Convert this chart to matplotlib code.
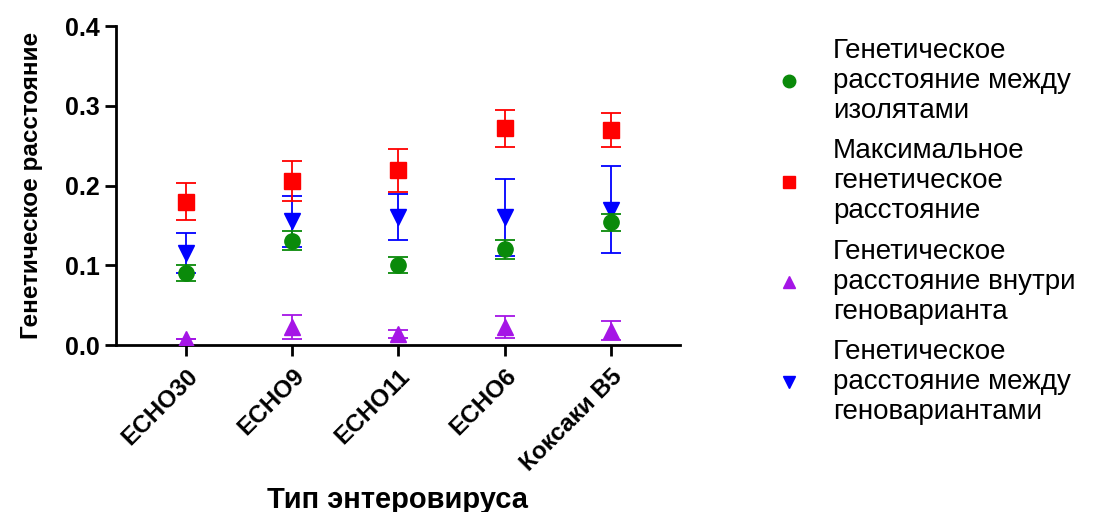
#!/usr/bin/env python3
"""Genetic distance by enterovirus type (mean +/- error)."""

import matplotlib
matplotlib.use("Agg")
import matplotlib.pyplot as plt
from matplotlib.lines import Line2D
import numpy as np

plt.rcParams["font.family"] = ["Liberation Sans", "DejaVu Sans"]

categories = ["ECHO30", "ECHO9", "ECHO11", "ECHO6", "Коксаки B5"]

isolates_mean = [0.090, 0.131, 0.101, 0.120, 0.154]
isolates_err = [0.010, 0.012, 0.010, 0.012, 0.011]

max_mean = [0.180, 0.206, 0.219, 0.272, 0.270]
max_err = [0.023, 0.025, 0.027, 0.023, 0.021]

within_mean = [0.008, 0.023, 0.014, 0.023, 0.018]
within_err = [0.0, 0.015, 0.005, 0.014, 0.012]

between_mean = [0.115, 0.155, 0.161, 0.160, 0.170]
between_err = [0.025, 0.032, 0.029, 0.048, 0.054]

labels = [
    "Генетическое\nрасстояние между\nизолятами",
    "Максимальное\nгенетическое\nрасстояние",
    "Генетическое\nрасстояние внутри\nгеноварианта",
    "Генетическое\nрасстояние между\nгеновариантами",
]

GREEN = "#0a8a0a"
RED = "#ff0000"
PURPLE = "#a515e6"
BLUE = "#0000ff"

fig = plt.figure(figsize=(11.09, 5.12), dpi=100)
ax = fig.add_axes([0.1046, 0.326, 0.5085, 0.623])

x = np.arange(len(categories))
ekw = dict(linestyle="none", elinewidth=1.3, capsize=7, capthick=1.3)

ax.errorbar(x, between_mean, yerr=between_err, fmt="v", color=BLUE,
            markersize=11, zorder=2, **ekw)
ax.errorbar(x, max_mean, yerr=max_err, fmt="s", color=RED,
            markersize=11, zorder=3, **ekw)
ax.errorbar(x, within_mean, yerr=within_err, fmt="^", color=PURPLE,
            markersize=11, zorder=4, **ekw)
ax.errorbar(x, isolates_mean, yerr=isolates_err, fmt="o", color=GREEN,
            markersize=11, zorder=5, **ekw)

ax.set_xlim(-0.66, 4.65)
ax.set_ylim(0, 0.4)
ax.set_yticks([0.0, 0.1, 0.2, 0.3, 0.4])
ax.set_yticklabels(["0.0", "0.1", "0.2", "0.3", "0.4"])
ax.set_xticks(x)
ax.set_xticklabels(categories, rotation=45, ha="right", rotation_mode="anchor")

for s in ["top", "right"]:
    ax.spines[s].set_visible(False)
for s in ["left", "bottom"]:
    ax.spines[s].set_linewidth(2)
ax.tick_params(axis="both", width=2, length=8)
ax.tick_params(axis="y", labelsize=18)
ax.tick_params(axis="x", labelsize=17.5, pad=6)
for t in ax.get_xticklabels() + ax.get_yticklabels():
    t.set_fontweight("bold")

ax.set_ylabel("Генетическое расстояние", fontsize=17.5, fontweight="bold", labelpad=16)
ax.set_xlabel("Тип энтеровируса", fontsize=21, fontweight="bold", labelpad=8)

handles = [
    Line2D([], [], marker="o", color=GREEN, linestyle="none", markersize=9),
    Line2D([], [], marker="s", color=RED, linestyle="none", markersize=9),
    Line2D([], [], marker="^", color=PURPLE, linestyle="none", markersize=9),
    Line2D([], [], marker="v", color=BLUE, linestyle="none", markersize=9),
]
fig.legend(handles, labels, loc="upper left", bbox_to_anchor=(0.676, 0.975),
           frameon=False, fontsize=20, handlelength=1.0, handletextpad=1.1,
           labelspacing=0.52)

fig.savefig("out.png", dpi=100)
